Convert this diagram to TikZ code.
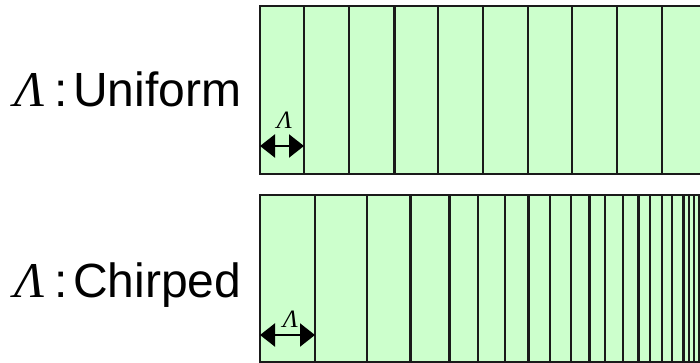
\documentclass[tikz,border=0pt]{standalone}
\usepackage{fontspec}
\setmainfont{Liberation Sans}
\newfontfamily\serifit{Liberation Serif}
\usetikzlibrary{arrows.meta}
\definecolor{gfill}{HTML}{CCFFCC}
\definecolor{gline}{HTML}{1A1A1A}
\tikzset{
  grating/.style={fill=gfill, draw=gline, line width=2.4pt},
  period/.style={draw=gline, line width=2.4pt},
  lam/.style={font=\serifit\itshape\fontsize{25}{25}\selectfont, anchor=base, inner sep=0pt},
  biglam/.style={font=\serifit\itshape\fontsize{50}{50}\selectfont, anchor=base west, inner sep=0pt},
  word/.style={font=\fontsize{48}{48}\selectfont, anchor=base west, inner sep=0pt},
  dimarrow/.style={{Triangle[length=15pt,width=23pt]}-{Triangle[length=15pt,width=23pt]}, line width=2.2pt, black}
}
\begin{document}
\begin{tikzpicture}[x=1pt,y=-1pt]
\clip (0,0) rectangle (700,363);
\fill[white] (0,0) rectangle (700,363);

% labels
\node[biglam] (l1) at (14,107) {Λ};
\node[word] (c1) at (54,107) {:};
\node[word] (w1) at (73,107) {Uniform};
\node[biglam] (l2) at (14,297) {Λ};
\node[word] (c2) at (54,297) {:};
\node[word] (w2) at (73,297) {Chirped};

% uniform grating
\draw[grating] (260,6) rectangle (720,174);
\foreach \x in {304,349,394.5,438,483,528,572,617,662,706}
  \draw[period] (\x,6) -- (\x,174);

% chirped grating
\draw[grating] (260,195) rectangle (720,362);
\foreach \x in {315,366.7,410.5,449.3,478,505,528.3,550,571,589.3,605,622.7,638.3,650,662,672,683.3,689,694,699}
  \draw[period] (\x,195) -- (\x,362);

% period arrows
\coordinate (a1) at (260,146);
\coordinate (b1) at (304,146);
\draw[dimarrow] (a1) -- (b1);
\node[lam] (p1) at (284.5,129) {Λ};

\coordinate (a2) at (260,335);
\coordinate (b2) at (315,335);
\draw[dimarrow] (a2) -- (b2);
\node[lam] (p2) at (290.5,327) {Λ};
\end{tikzpicture}
\end{document}
